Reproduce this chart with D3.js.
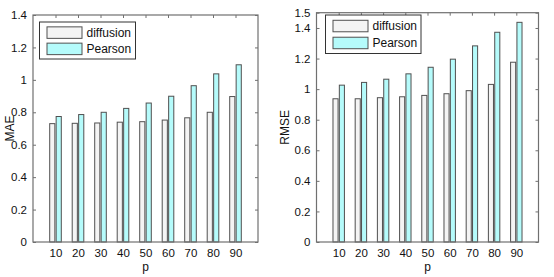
<!DOCTYPE html>
<html><head><meta charset="utf-8">
<script src="https://cdn.jsdelivr.net/npm/d3@7"></script>
<style>html,body{margin:0;padding:0;background:#fff;}svg{display:block;}</style>
</head><body>
<svg id="chart" width="554" height="277"></svg>
<script>
// ---- data ----
const categories = [10, 20, 30, 40, 50, 60, 70, 80, 90];
const seriesNames = ["diffusion", "Pearson"];
const maeDiffusion = [0.730, 0.732, 0.734, 0.739, 0.742, 0.752, 0.766, 0.800, 0.897];
const maePearson   = [0.774, 0.786, 0.800, 0.824, 0.857, 0.899, 0.964, 1.037, 1.093];
const rmseDiffusion = [0.937, 0.937, 0.944, 0.950, 0.959, 0.970, 0.990, 1.031, 1.176];
const rmsePearson   = [1.026, 1.044, 1.065, 1.100, 1.143, 1.196, 1.283, 1.372, 1.437];
const maeTicks  = [0, 0.2, 0.4, 0.6, 0.8, 1, 1.2, 1.4];
const rmseTicks = [0, 0.2, 0.4, 0.6, 0.8, 1, 1.2, 1.4, 1.5];
const xLabel = "p";

const fills = ["#f4f4f4", "#b5fbfb"];
const svg = d3.select("#chart");
const font = "'Liberation Sans', Arial, sans-serif";

function panel(cfg) {
  const g = svg.append("g");
  const x = d3.scaleLinear().domain([0, 100]).range([cfg.left, cfg.right]);
  const y = d3.scaleLinear().domain([0, cfg.ymax]).range([cfg.bottom, cfg.top]);
  const series = [cfg.a, cfg.b];
  const offs = [-1.43, 1.43], bw = 2.29;

  series.forEach((vals, si) => {
    g.selectAll(null).data(vals).enter().append("rect")
      .attr("x", (d, i) => x(categories[i] + offs[si] - bw / 2))
      .attr("width", x(bw) - x(0))
      .attr("y", d => y(d))
      .attr("height", d => y(0) - y(d))
      .attr("fill", fills[si])
      .attr("stroke", "#505050")
      .attr("stroke-width", 1);
  });

  // box
  g.append("rect").attr("x", cfg.left).attr("y", cfg.top)
    .attr("width", cfg.right - cfg.left).attr("height", cfg.bottom - cfg.top)
    .attr("fill", "none").attr("stroke", "#707070").attr("stroke-width", 1.2);

  // y axis ticks
  const yAxis = d3.axisLeft(y).tickValues(cfg.ticks).tickSize(-3)
    .tickPadding(6).tickFormat(d3.format("~g"));
  const ya = g.append("g").attr("transform", `translate(${cfg.left},0)`).call(yAxis);
  ya.select(".domain").remove();
  ya.selectAll("line").attr("stroke", "#707070");
  ya.selectAll("text").attr("font-family", font).attr("font-size", 11.5).attr("fill", "#111");
  const yr = g.append("g").attr("transform", `translate(${cfg.right},0)`)
    .call(d3.axisRight(y).tickValues(cfg.ticks).tickSize(-3).tickFormat(""));
  yr.select(".domain").remove();
  yr.selectAll("line").attr("stroke", "#707070");

  // x axis
  const xAxis = d3.axisBottom(x).tickValues(categories).tickSize(0).tickPadding(7);
  const xa = g.append("g").attr("transform", `translate(0,${cfg.bottom})`).call(xAxis);
  xa.select(".domain").remove();
  xa.selectAll("text").attr("font-family", font).attr("font-size", 11.5).attr("fill", "#111");
  const xt = g.append("g").attr("transform", `translate(0,${cfg.top})`)
    .call(d3.axisTop(x).tickValues(categories).tickSize(-3).tickFormat(""));
  xt.select(".domain").remove();
  xt.selectAll("line").attr("stroke", "#707070");

  // labels
  g.append("text").attr("x", (cfg.left + cfg.right) / 2).attr("y", cfg.bottom + 29)
    .attr("text-anchor", "middle").attr("font-family", font).attr("font-size", 12)
    .attr("fill", "#111").text(xLabel);
  g.append("text").attr("transform", `translate(${cfg.ylx},${(cfg.top + cfg.bottom) / 2}) rotate(-90)`)
    .attr("text-anchor", "middle").attr("font-family", font).attr("font-size", 12)
    .attr("fill", "#111").text(cfg.ylabel);

  // legend
  const L = cfg.legend;
  g.append("rect").attr("x", L.x).attr("y", L.y).attr("width", L.w).attr("height", L.h)
    .attr("fill", "#fff").attr("stroke", "#333").attr("stroke-width", 1);
  seriesNames.forEach((name, i) => {
    const cy = L.y + L.h * (i === 0 ? 0.28 : 0.72);
    g.append("rect").attr("x", L.x + 7.5).attr("y", cy - 5.5).attr("width", 35).attr("height", 11.5)
      .attr("fill", fills[i]).attr("stroke", "#505050").attr("stroke-width", 1);
    g.append("text").attr("x", L.x + 47).attr("y", cy).attr("dy", "0.35em")
      .attr("font-family", font).attr("font-size", 12).attr("fill", "#111").text(name);
  });
}

panel({left: 33, right: 258, top: 15, bottom: 242, ymax: 1.4, ticks: maeTicks,
  a: maeDiffusion, b: maePearson, ylabel: "MAE", ylx: 14,
  legend: {x: 39.5, y: 22, w: 96, h: 37}});
panel({left: 316.5, right: 538.5, top: 12.7, bottom: 242, ymax: 1.5, ticks: rmseTicks,
  a: rmseDiffusion, b: rmsePearson, ylabel: "RMSE", ylx: 289,
  legend: {x: 325.5, y: 15, w: 95.5, h: 38.5}});
</script>
</body></html>
